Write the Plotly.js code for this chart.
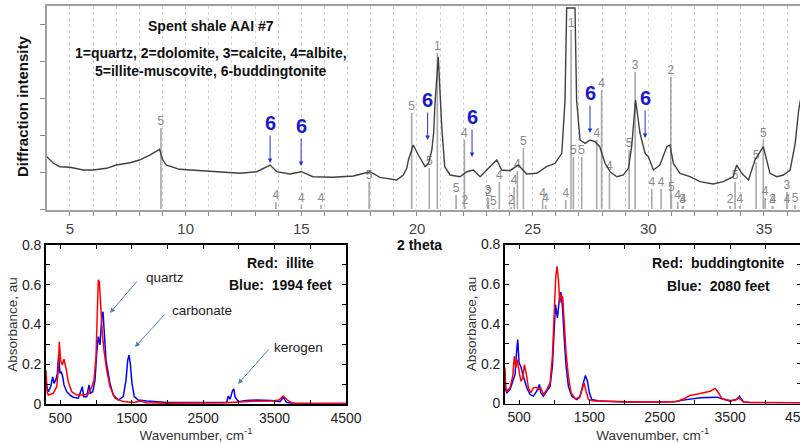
<!DOCTYPE html>
<html>
<head>
<meta charset="utf-8">
<script src="https://cdn.plot.ly/plotly-3.0.1.min.js"></script>
<style>
html,body{margin:0;padding:0;overflow:hidden;background:#fff;width:800px;height:443px;}
#chart{width:804px;height:443px;}
</style>
</head>
<body>
<div id="chart"></div>
<script>
// ---------------- XRD pattern (2 theta, intensity counts) ----------------
const xrdTheta = [4.0,4.28,4.56,5.0,5.57,6.0,6.58,7.0,7.6,8.0,8.45,8.73,8.87,9.01,9.16,9.73,10.3,10.9,11.7,12.35,13.07,13.65,13.94,14.5,15.0,15.5,16.38,17.25,17.97,18.4,19.12,19.41,19.56,19.63,19.84,20.06,20.35,20.5,20.64,20.72,20.78,20.92,21.0,21.07,21.2,21.43,21.86,22.15,22.44,22.73,23.09,23.45,23.66,24.02,24.38,24.74,25.18,25.6,25.97,26.26,26.4,26.47,26.83,26.9,27.05,27.27,27.48,27.7,27.9,28.13,28.35,28.64,28.92,29.14,29.28,29.45,29.64,29.86,30.0,30.22,30.5,30.8,30.94,31.08,31.37,31.8,32.24,32.8,33.24,33.67,33.82,34.04,34.33,34.61,34.97,35.26,35.55,35.84,36.13,36.35,36.5,36.7];
const xrdIntensity = [1421,1242,1149,1133,1060,1060,1106,1195,1258,1331,1467,1557,1622,1331,1195,1079,1060,1032,997,970,1013,1195,1013,951,1013,878,861,897,1013,861,788,924,1114,1331,1739,1467,1149,1242,1603,2065,2880,4138,2962,2236,1149,924,878,1013,1060,878,1106,1331,1060,1041,1195,951,970,1149,1242,1513,2962,5461,5461,2962,1875,1785,1875,1829,1693,1242,1013,878,924,1106,1693,2962,2065,1513,1421,1060,1195,1693,1739,1242,970,878,742,679,742,878,1195,970,788,1331,1693,970,878,924,1060,1785,2690,3400];

// reference stick pattern: position, height, phase number
const stickTheta = [8.93,13.9,15.0,15.85,17.93,19.77,20.53,20.88,21.69,22.05,22.07,23.06,23.09,23.3,23.56,24.07,24.2,24.34,24.6,25.43,25.56,26.43,26.66,26.76,27.12,27.77,27.98,28.32,29.17,29.43,30.15,30.55,30.97,31.0,31.27,31.47,31.5,33.53,33.75,33.96,34.66,34.97,35.05,35.36,35.38,35.99,36.0,36.34];
const stickHeight = [2201,190,109,109,734,2608,1114,4239,380,1875,54,326,272,27,734,54,598,1032,1657,245,109,245,4863,1413,1413,1875,3233,978,1603,3722,543,543,3586,408,190,82,82,82,734,82,1277,1875,299,82,82,462,82,109];
const stickLabel = ['5','4','4','4','5','5','5','1','5','4','2','3','2','5','4','2','4','4','5','4','4','4','1','5','5','4','4','4','5','3','4','4','2','5','4','3','4','2','5','4','5','5','4','2','4','3','4','5'];

// buddingtonite markers (arrow heads)
const budTheta = [13.65,14.99,20.46,22.38,27.48,29.86];
const budIntensity = [1250,1168,1875,1413,2065,1929];

// ---------------- FTIR spectra ----------------
const wnIllite = [300,315,333,402,450,472,486,505,528,552,580,612,660,730,822,893,940,972,1000,1018,1032,1047,1065,1088,1112,1150,1196,1266,1382,1522,1630,1700,2000,2500,2800,3000,3200,3450,3560,3620,3680,3750,4500];
const absIllite = [0.17,0.06,0.045,0.054,0.087,0.171,0.313,0.22,0.196,0.225,0.18,0.112,0.062,0.045,0.045,0.05,0.087,0.12,0.238,0.49,0.624,0.615,0.49,0.356,0.27,0.171,0.087,0.029,0.012,0.008,0.015,0.006,0.004,0.004,0.006,0.01,0.014,0.015,0.02,0.04,0.02,0.003,0.002];

const wn1994 = [300,315,333,366,394,412,436,459,477,496,514,534,552,590,636,682,752,790,808,827,870,902,920,954,986,1010,1032,1056,1084,1098,1116,1140,1164,1196,1242,1312,1382,1420,1444,1462,1480,1504,1536,1592,1710,2000,2500,2829,2852,2876,2914,2930,2946,2992,3100,3250,3450,3576,3622,3669,3800,4500];
const abs1994 = [0.12,0.08,0.062,0.087,0.137,0.104,0.12,0.154,0.246,0.154,0.163,0.137,0.096,0.062,0.045,0.034,0.029,0.062,0.087,0.037,0.037,0.096,0.054,0.062,0.12,0.255,0.339,0.297,0.456,0.464,0.372,0.221,0.171,0.104,0.045,0.02,0.037,0.12,0.221,0.246,0.205,0.104,0.037,0.02,0.015,0.008,0.007,0.008,0.04,0.024,0.07,0.075,0.037,0.012,0.017,0.02,0.017,0.012,0.034,0.007,0.003,0.002];

const wnBudd = [300,310,325,372,410,433,453,476,504,528,552,576,600,633,666,703,742,780,808,846,894,941,974,1002,1022,1040,1059,1079,1097,1121,1144,1168,1201,1239,1296,1358,1396,1424,1452,1486,1557,1800,2200,2600,2742,2850,2932,3074,3216,3287,3334,3382,3500,3580,3619,3690,3800,4500];
const absBudd = [0.18,0.08,0.062,0.079,0.137,0.238,0.18,0.221,0.154,0.112,0.129,0.196,0.154,0.079,0.054,0.079,0.082,0.07,0.079,0.045,0.07,0.104,0.238,0.49,0.64,0.69,0.624,0.506,0.548,0.532,0.406,0.255,0.137,0.054,0.024,0.029,0.07,0.104,0.062,0.02,0.012,0.01,0.007,0.008,0.01,0.025,0.04,0.05,0.062,0.076,0.054,0.024,0.015,0.018,0.029,0.007,0.005,0.004];

const wn2080 = [300,310,325,372,410,443,467,481,500,524,547,576,609,656,703,751,789,808,846,894,941,974,998,1017,1045,1074,1093,1116,1140,1168,1201,1249,1320,1367,1414,1443,1471,1500,1533,1652,2000,2500,2700,2832,3074,3311,3400,3500,3600,3633,3690,3800,4500];
const abs2080 = [0.14,0.07,0.054,0.07,0.112,0.146,0.272,0.322,0.205,0.188,0.154,0.12,0.079,0.045,0.037,0.062,0.096,0.054,0.037,0.062,0.087,0.188,0.406,0.498,0.431,0.532,0.56,0.49,0.339,0.188,0.087,0.037,0.02,0.037,0.104,0.141,0.112,0.054,0.02,0.012,0.008,0.007,0.009,0.017,0.029,0.032,0.024,0.012,0.022,0.037,0.008,0.004,0.003];

const absTicks = [0,0.1,0.2,0.3,0.4,0.5,0.6,0.7,0.8];
const absTickText = ['0','','0.2','','0.4','','0.6','','0.8'];
const wnTicks = [500,1000,1500,2000,2500,3000,3500,4000,4500];
const wnTickText = ['500','','1500','','2500','','3500','','4500'];
const thetaTicks = [];
const thetaTickText = [];
for (let d = 4; d <= 36; d++) { thetaTicks.push(d); thetaTickText.push(d % 5 === 0 ? String(d) : ''); }

// ---------------- layout helpers ----------------
const W = 804, H = 443;
const fx = px => px / W;
const fy = py => 1 - py / H;
const FONT = 'Arial, "Liberation Sans", sans-serif';

// stick segments from data
const sx = [], sy = [];
stickTheta.forEach((t, i) => { sx.push(t, t, null); sy.push(0, stickHeight[i], null); });

const traces = [
  {x: sx, y: sy, xaxis: 'x', yaxis: 'y', mode: 'lines', line: {color: '#a8a8a8', width: 1.6}, hoverinfo: 'skip', showlegend: false},
  {x: stickTheta, y: stickHeight, text: stickLabel, xaxis: 'x', yaxis: 'y', mode: 'text', textposition: 'top center',
   textfont: {family: FONT, size: 12, color: '#8a8a8a'}, showlegend: false, cliponaxis: false},
  {x: xrdTheta, y: xrdIntensity, xaxis: 'x', yaxis: 'y', mode: 'lines', line: {color: '#404040', width: 1.4}, showlegend: false},
  {x: wn1994, y: abs1994, xaxis: 'x2', yaxis: 'y2', mode: 'lines', line: {color: '#0000ff', width: 1.5}, name: '1994 feet', showlegend: false},
  {x: wnIllite, y: absIllite, xaxis: 'x2', yaxis: 'y2', mode: 'lines', line: {color: '#ff0000', width: 1.5}, name: 'illite', showlegend: false},
  {x: wn2080, y: abs2080, xaxis: 'x3', yaxis: 'y3', mode: 'lines', line: {color: '#0000ff', width: 1.5}, name: '2080 feet', showlegend: false},
  {x: wnBudd, y: absBudd, xaxis: 'x3', yaxis: 'y3', mode: 'lines', line: {color: '#ff0000', width: 1.5}, name: 'buddingtonite', showlegend: false}
];

const ftirX = (dom, anchor) => ({
  domain: dom, range: [300, 4500], anchor: anchor, showline: true, linecolor: '#000', linewidth: 1.8, mirror: 'ticks',
  ticks: 'inside', ticklen: 4, tickcolor: '#000', tickvals: wnTicks, ticktext: wnTickText, showgrid: false, zeroline: false,
  ticklabeloverflow: 'allow',
  tickfont: {family: FONT, size: 14, color: '#222'},
  title: {text: 'Wavenumber, cm<sup>-1</sup>', font: {family: FONT, size: 13.5, color: '#333'}, standoff: 1}
});
const ftirY = (dom, anchor) => ({
  domain: dom, range: [0, 0.8], anchor: anchor, showline: true, linecolor: '#000', linewidth: 1.8, mirror: 'ticks',
  ticks: 'inside', ticklen: 4, tickcolor: '#000', tickvals: absTicks, ticktext: absTickText, showgrid: false, zeroline: false,
  tickfont: {family: FONT, size: 14, color: '#222'},
  title: {text: 'Absorbance, au', font: {family: FONT, size: 13.5, color: '#333'}, standoff: 1}
});

const ann = [];
const txt = (px, py, text, size, bold, color, extra) => Object.assign({
  xref: 'paper', yref: 'paper', x: fx(px), y: fy(py), text: bold ? '<b>' + text + '</b>' : text, showarrow: false,
  font: {family: FONT, size: size, color: color || '#111'}, xanchor: 'center', yanchor: 'middle'
}, extra || {});

ann.push(txt(211, 26, 'Spent shale AAI #7', 14, true));
ann.push(txt(211, 53, '1=quartz, 2=dolomite, 3=calcite, 4=albite,', 14, true));
ann.push(txt(211, 71, '5=illite-muscovite, 6-buddingtonite', 14, true));
ann.push(txt(22, 106, 'Diffraction intensity', 15, true, '#111', {textangle: -90}));
ann.push(txt(420, 245, '2 theta', 14, true));

budTheta.forEach((t, i) => ann.push({
  xref: 'x', yref: 'y', x: t, y: budIntensity[i], text: '<b>6</b>', showarrow: true, ax: 0, ay: -40,
  arrowhead: 2, arrowsize: 0.9, arrowwidth: 1, arrowcolor: '#2233dd', standoff: 0,
  font: {family: FONT, size: 20, color: '#1a1acc'}
}));

ann.push(txt(280, 263, 'Red:\u00a0 illite', 14, true));
ann.push(txt(280, 285, 'Blue:\u00a0 1994 feet', 14, true));
ann.push(txt(718, 263, 'Red:\u00a0 buddingtonite', 14, true));
ann.push(txt(718, 286, 'Blue:\u00a0 2080 feet', 14, true));
ann.push(txt(165, 277, 'quartz', 13.5, false, '#222'));
ann.push(txt(202, 310, 'carbonate', 13.5, false, '#222'));
ann.push(txt(298, 347, 'kerogen', 13.5, false, '#222'));

const arrow = (hx, hy, tx, ty) => ({
  xref: 'paper', yref: 'paper', x: fx(hx), y: fy(hy), ax: tx - hx, ay: ty - hy, text: '', showarrow: true,
  arrowhead: 2, arrowsize: 1, arrowwidth: 1, arrowcolor: '#4f81bd', standoff: 0, startstandoff: 0
});
ann.push(arrow(110, 313, 138, 280));
ann.push(arrow(135, 347, 166, 313));
ann.push(arrow(238, 384, 270, 348));

const layout = {
  width: W, height: H, margin: {l: 0, r: 0, t: 0, b: 0}, paper_bgcolor: '#fff', plot_bgcolor: '#fff',
  font: {family: FONT}, showlegend: false,
  xaxis: {domain: [fx(47), 1], range: [4.006, 36.73], anchor: 'y', showline: true, mirror: true, linecolor: '#a0a0a0', linewidth: 1.6,
    ticks: 'outside', ticklen: 4, tickcolor: '#888', tickvals: thetaTicks, ticktext: thetaTickText,
    showgrid: true, gridcolor: '#d2d2d2', griddash: 'dot', gridwidth: 1, zeroline: false,
    tickfont: {family: FONT, size: 15, color: '#444'}},
  yaxis: {domain: [fy(210), fy(6)], range: [-27, 5516], anchor: 'x', showline: true, linecolor: '#a0a0a0', linewidth: 1.6,
    ticks: 'outside', ticklen: 5, tickcolor: '#888', tickvals: [0, 1000, 2000, 3000, 4000, 5000], showticklabels: false,
    showgrid: false, zeroline: false},
  xaxis2: ftirX([fx(46), fx(346)], 'y2'),
  yaxis2: ftirY([fy(404), fy(245)], 'x2'),
  xaxis3: ftirX([fx(505), fx(800.5)], 'y3'),
  yaxis3: ftirY([fy(403.5), fy(244.5)], 'x3'),
  annotations: ann
};

Plotly.newPlot('chart', traces, layout, {staticPlot: true, displayModeBar: false});
</script>
</body>
</html>
